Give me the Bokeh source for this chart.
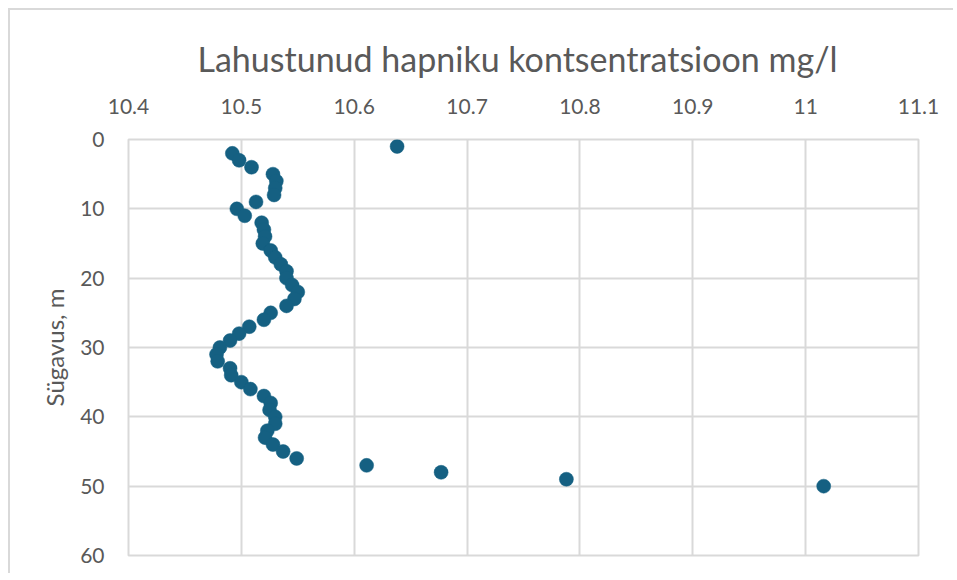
from bokeh.plotting import figure
from bokeh.models import Range1d, FixedTicker, CustomJSTickFormatter, ColumnDataSource
from bokeh.embed import file_html
from bokeh.resources import INLINE

# Depth (m) and dissolved oxygen concentration (mg/l)
depth = list(range(1, 51))
oxygen = [10.638, 10.492, 10.498, 10.509, 10.528, 10.531, 10.530, 10.529, 10.513, 10.496,
          10.503, 10.518, 10.520, 10.521, 10.519, 10.526, 10.530, 10.535, 10.540, 10.540,
          10.545, 10.550, 10.547, 10.540, 10.526, 10.520, 10.507, 10.498, 10.490, 10.481,
          10.478, 10.479, 10.490, 10.491, 10.500, 10.508, 10.520, 10.526, 10.525, 10.530,
          10.530, 10.523, 10.521, 10.528, 10.537, 10.549, 10.611, 10.677, 10.788, 11.016]
x_ticks = [10.4, 10.5, 10.6, 10.7, 10.8, 10.9, 11.0, 11.1]
y_ticks = [0, 10, 20, 30, 40, 50, 60]

title = "Lahustunud hapniku kontsentratsioon mg/l"
y_label = "Sügavus, m"

FONT = "Lato"
GREY = "#595959"
GRID = "#d9d9d9"

src = ColumnDataSource(data=dict(x=oxygen, y=depth))

p = figure(width=945, height=565, output_backend="svg", toolbar_location=None,
           x_range=Range1d(10.4, 11.1), y_range=Range1d(60, 0),
           x_axis_location="above", title=title,
           min_border_left=118, min_border_right=37, min_border_top=129, min_border_bottom=20,
           styles={"margin-left": "8px", "margin-top": "8px",
                   "border-top": "2px solid #d9d9d9", "border-left": "2px solid #d9d9d9"})

p.scatter("x", "y", source=src, size=14, fill_color="#156082", line_color="#156082", line_width=0.5)

p.title.align = "left"
p.title.text_font = FONT
p.title.text_font_size = "34px"
p.title.text_font_style = "normal"
p.title.text_color = GREY
p.title.offset = 69
p.title.standoff = 33

for ax in (p.xaxis[0], p.yaxis[0]):
    ax.axis_line_color = None
    ax.major_tick_line_color = None
    ax.minor_tick_line_color = None
    ax.major_label_text_font = FONT
    ax.major_label_text_font_size = "21px"
    ax.major_label_text_color = GREY
    ax.major_label_standoff = 20

p.yaxis[0].major_label_standoff = 18

p.xaxis[0].ticker = FixedTicker(ticks=x_ticks)
p.xaxis[0].formatter = CustomJSTickFormatter(code="return String(Number(tick.toFixed(1)));")
p.yaxis[0].ticker = FixedTicker(ticks=y_ticks)
p.yaxis[0].axis_label = y_label
p.yaxis[0].axis_label_text_font = FONT
p.yaxis[0].axis_label_text_font_size = "24px"
p.yaxis[0].axis_label_text_font_style = "normal"
p.yaxis[0].axis_label_text_color = GREY
p.yaxis[0].axis_label_standoff = 8

p.xgrid.ticker = FixedTicker(ticks=x_ticks)
p.ygrid.ticker = FixedTicker(ticks=y_ticks)
p.grid.grid_line_color = GRID
p.grid.grid_line_width = 2
p.outline_line_color = GRID
p.outline_line_width = 2

open("out.html", "w").write(file_html(p, INLINE))
